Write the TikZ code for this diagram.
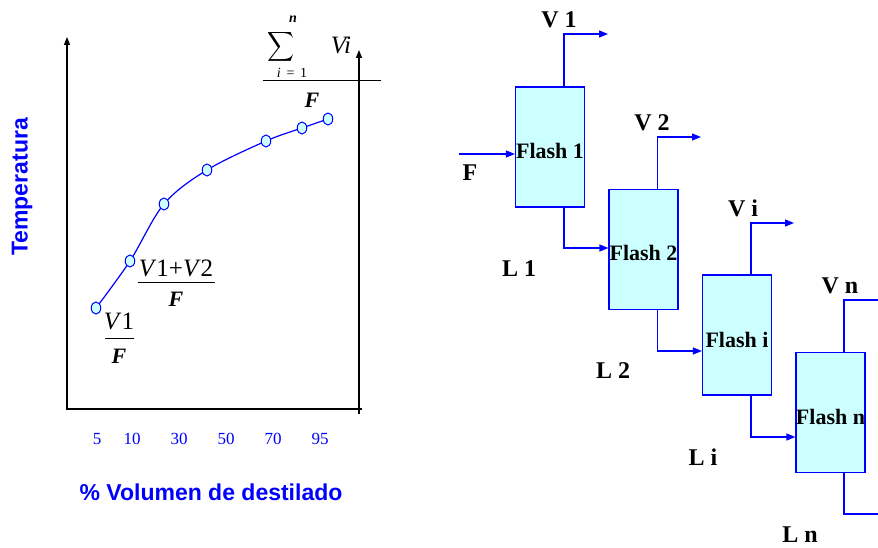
\documentclass[tikz,border=0pt]{standalone}
\usepackage{fontspec}
\setmainfont{Liberation Serif}
\newfontfamily\arialfont{Liberation Sans}
\usetikzlibrary{arrows.meta,calc,shapes.geometric}
\definecolor{pblue}{RGB}{0,0,255}
\definecolor{pcyan}{RGB}{204,255,255}
\begin{document}
\begin{tikzpicture}[x=1pt,y=-1pt,
  flash/.style={draw=pblue, fill=pcyan, line width=1.2pt, minimum width=69pt, minimum height=120pt, inner sep=0pt},
  flow/.style={draw=pblue, line width=1.3pt, -{Triangle[length=9pt,width=7pt]}},
  plain/.style={draw=pblue, line width=1.3pt},
  axisline/.style={draw=black, line width=1.3pt},
  axisarrow/.style={draw=black, line width=1.3pt, -{Triangle[length=8pt,width=6pt]}},
  lbl/.style={font=\fontsize{24}{24}\selectfont\bfseries, inner sep=0pt},
  ftxt/.style={font=\fontsize{22}{22}\selectfont\bfseries, inner sep=0pt},
  ticklbl/.style={text=pblue, font=\fontsize{17}{17}\selectfont, inner sep=0pt},
  axlbl/.style={text=pblue, font=\arialfont\bfseries\fontsize{23}{23}\selectfont, inner sep=0pt},
  datapt/.style={ellipse, draw=pblue, fill=pcyan, minimum width=9.5pt, minimum height=12pt, inner sep=0pt, line width=1pt},
  mth/.style={font=\fontsize{25}{25}\selectfont, inner sep=0pt},
  mthf/.style={font=\fontsize{22}{22}\selectfont\bfseries\itshape, inner sep=0pt}
]
\useasboundingbox (0,0) rectangle (878,548);

% ---------------- left chart ----------------
\coordinate (o) at (67,409);
\coordinate (ytop) at (67,37);
\coordinate (xend) at (362,409);
\coordinate (rbot) at (359,414);
\coordinate (rtop) at (359,50);
\draw[axisarrow] (67,410) -- (ytop);
\draw[axisline] (66,409) -- (xend);
\draw[axisarrow] (rbot) -- (rtop);

\node[axlbl, rotate=90] (ylab) at (22,187) {Temperatura};
\node[axlbl] (xlab) at (211,492) {\% Volumen de destilado};

\node[ticklbl] (t5) at (97,439) {5};
\node[ticklbl] (t10) at (132,439) {10};
\node[ticklbl] (t30) at (179,439) {30};
\node[ticklbl] (t50) at (226,439) {50};
\node[ticklbl] (t70) at (273,439) {70};
\node[ticklbl] (t95) at (320,439) {95};

\coordinate (p1) at (96,308);
\coordinate (p2) at (130,261);
\coordinate (p3) at (164,204);
\coordinate (p4) at (207,170);
\coordinate (p5) at (266,141);
\coordinate (p6) at (302,128);
\coordinate (p7) at (328,119);
\draw[pblue, line width=1.2pt] plot[smooth, tension=0.55] coordinates {(p1) (p2) (p3) (p4) (p5) (p6) (p7)};
\foreach \p in {p1,p2,p3,p4,p5,p6,p7} \node[datapt] (m\p) at (\p) {};

% fraction V1/F
\node[mth] (n1) at (119,321) {\textit{V}1};
\coordinate (fr1a) at (105,338);
\coordinate (fr1b) at (134,338);
\draw[black, line width=1pt] (fr1a) -- (fr1b);
\node[mthf] (d1) at (119,356) {F};

% fraction (V1+V2)/F
\node[mth] (n2) at (176,268) {\textit{V}1+\textit{V}2};
\coordinate (fr2a) at (138,282);
\coordinate (fr2b) at (215,282);
\draw[black, line width=1pt] (fr2a) -- (fr2b);
\node[mthf] (d2) at (176,299) {F};

% sum / F
\node[inner sep=0pt] (sig) at (281,47) {\resizebox*{27pt}{33pt}{$\displaystyle\sum$}};
\node[font=\fontsize{14}{14}\selectfont\bfseries\itshape, inner sep=0pt] (sn) at (293,19) {n};
\node[font=\fontsize{14}{14}\selectfont, inner sep=0pt] (si) at (292,73) {\textit{i} \,=\, 1};
\node[font=\fontsize{25}{25}\selectfont\itshape, inner sep=0pt] (svi) at (341,45) {Vi};
\coordinate (fr3a) at (263,81);
\coordinate (fr3b) at (381,81);
\draw[black, line width=1pt] (fr3a) -- (fr3b);
\node[mthf] (d3) at (312,100) {F};

% ---------------- right diagram ----------------
\node[flash, label={[ftxt,yshift=-4pt]center:Flash 1}] (f1) at (550,147) {};
\node[flash, label={[ftxt,yshift=-3.5pt]center:Flash 2}] (f2) at (643.5,249.5) {};
\node[flash, label={[ftxt,yshift=-5pt]center:Flash i}] (fi) at (737,335) {};
\node[flash, label={[ftxt,yshift=-4.5pt]center:Flash n}] (fn) at (830.5,412.5) {};

\coordinate (fin) at (459,154);
\draw[flow] (fin) -- (f1.west |- fin);

\coordinate (v1end) at (608,34);
\coordinate (v2end) at (701,137);
\coordinate (viend) at (794,223);
\coordinate (vnend) at (880,300);
\draw[flow] ($(f1.north)+(14,0)$) |- (v1end);
\draw[flow] ($(f2.north)+(14,0)$) |- (v2end);
\draw[flow] ($(fi.north)+(14,0)$) |- (viend);
\draw[plain] ($(fn.north)+(13.5,0)$) |- (vnend);

\coordinate (l1y) at (0,248);
\coordinate (l2y) at (0,351);
\coordinate (liy) at (0,437);
\coordinate (lnend) at (880,514);
\draw[flow] ($(f1.south)+(14,0)$) |- (f2.west |- l1y);
\draw[flow] ($(f2.south)+(14,0)$) |- (fi.west |- l2y);
\draw[flow] ($(fi.south)+(14,0)$) |- (fn.west |- liy);
\draw[plain] ($(fn.south)+(13.5,0)$) |- (lnend);

\node[lbl] (lv1) at (559,20) {V 1};
\node[lbl] (lv2) at (652,123) {V 2};
\node[lbl] (lvi) at (743,208) {V i};
\node[lbl] (lvn) at (840,286) {V n};
\node[lbl] (lf) at (470,173) {F};
\node[lbl] (ll1) at (519,269) {L 1};
\node[lbl] (ll2) at (613,371) {L 2};
\node[lbl] (lli) at (703,457) {L i};
\node[lbl] (lln) at (800,535) {L n};
\end{tikzpicture}
\end{document}
